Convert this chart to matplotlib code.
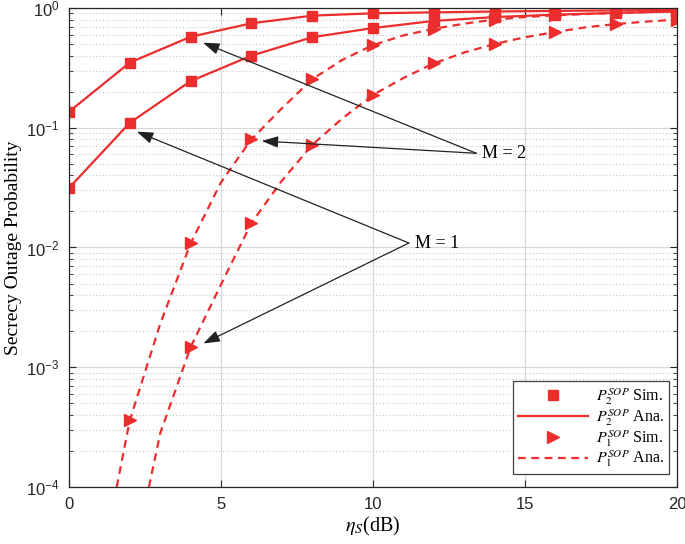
import numpy as np
import matplotlib
matplotlib.use("Agg")
import matplotlib.pyplot as plt
from matplotlib.ticker import FixedLocator, FuncFormatter, LogLocator, NullFormatter

# values
eta_sim = [0, 2, 4, 6, 8, 10, 12, 14, 16, 18, 20]
p2_m2 = [0.136, 0.35, 0.575, 0.745, 0.863, 0.903, 0.92, 0.935, 0.945, 0.955, 0.965]
p2_m1 = [0.0314, 0.110, 0.245, 0.40, 0.57, 0.68, 0.78, 0.84, 0.88, 0.91, 0.935]

eta_p1_m2 = [2, 4, 6, 8, 10, 12, 14, 16, 18, 20]
p1_m2_sim = [3.6e-4, 0.0108, 0.080, 0.254, 0.49, 0.67, 0.80, 0.87, 0.91, 0.94]
eta_p1_m1 = [4, 6, 8, 10, 12, 14, 16, 18, 20]
p1_m1_sim = [1.47e-3, 0.016, 0.072, 0.188, 0.345, 0.50, 0.63, 0.735, 0.80]

# analytic curves (read at 1 dB steps, starting where they leave the bottom edge)
eta_ana_m2 = [1.57, 2, 3, 4, 5, 6, 7, 8, 9, 10, 11, 12, 13, 14, 15, 16, 17, 18, 19, 20]
p1_m2_ana = [1e-4, 3.6e-4, 2.3e-3, 0.0108, 0.035, 0.080, 0.145, 0.254, 0.37, 0.49,
             0.59, 0.67, 0.74, 0.80, 0.84, 0.87, 0.89, 0.91, 0.925, 0.94]
eta_ana_m1 = [2.63, 3, 4, 5, 6, 7, 8, 9, 10, 11, 12, 13, 14, 15, 16, 17, 18, 19, 20]
p1_m1_ana = [1e-4, 2.8e-4, 1.47e-3, 4.9e-3, 0.016, 0.036, 0.072, 0.12, 0.188, 0.26,
             0.345, 0.425, 0.50, 0.57, 0.63, 0.69, 0.735, 0.77, 0.80]

RED = '#ec2d2d'
DASH = (0, (3.5, 2.5))

plt.rcParams['mathtext.fontset'] = 'stix'
plt.rcParams['font.family'] = 'Liberation Sans'

fig = plt.figure(figsize=(6.85, 5.44), dpi=100)
ax = fig.add_axes([0.1007, 0.1048, 0.8876, 0.8805])

# solid analytic + square sim for P2
ax.plot(eta_sim, p2_m2, color=RED, lw=1.6, marker='s', ms=7)
ax.plot(eta_sim, p2_m1, color=RED, lw=1.6, marker='s', ms=7)
# dashed analytic + triangle sim for P1
ax.plot(eta_ana_m2, p1_m2_ana, color=RED, lw=1.6, ls=DASH)
ax.plot(eta_ana_m1, p1_m1_ana, color=RED, lw=1.6, ls=DASH)
ax.plot(eta_p1_m2, p1_m2_sim, color=RED, ls='none', marker='>', ms=8.5)
ax.plot(eta_p1_m1, p1_m1_sim, color=RED, ls='none', marker='>', ms=8.5)

# legend proxies
h1, = ax.plot([], [], color=RED, ls='none', marker='s', ms=7)
h2, = ax.plot([], [], color=RED, lw=1.6)
h3, = ax.plot([], [], color=RED, ls='none', marker='>', ms=8.5)
h4, = ax.plot([], [], color=RED, lw=1.6, ls=DASH)
leg = ax.legend([h1, h2, h3, h4],
                [r'$P_2^{SOP}$ Sim.', r'$P_2^{SOP}$ Ana.',
                 r'$P_1^{SOP}$ Sim.', r'$P_1^{SOP}$ Ana.'],
                loc='lower right', bbox_to_anchor=(0.992, 0.02),
                prop={'family': 'Liberation Serif', 'size': 11.5},
                handlelength=4.4, labelspacing=0.0, handletextpad=0.5,
                borderpad=0.3, borderaxespad=0.2,
                fancybox=False, framealpha=1, edgecolor='#404040')
leg.get_frame().set_linewidth(0.9)

ax.set_yscale('log')
ax.set_xlim(0, 20)
ax.set_ylim(1e-4, 1)
ax.xaxis.set_major_locator(FixedLocator([0, 5, 10, 15, 20]))
ax.yaxis.set_major_locator(LogLocator(base=10, numticks=10))
ax.yaxis.set_minor_locator(LogLocator(base=10, subs=np.arange(2, 10), numticks=10))
ax.yaxis.set_minor_formatter(NullFormatter())
ax.yaxis.set_major_formatter(FuncFormatter(lambda v, p: r'$\mathregular{10^{%d}}$' % round(np.log10(v))))

ax.grid(True, which='major', color='#d8d8d8', lw=0.9)
ax.grid(True, which='minor', axis='y', color='#c8c8c8', lw=0.8, ls=(0, (1, 2)))
ax.set_axisbelow(True)
ax.tick_params(which='both', direction='in', top=True, right=True, colors='#262626',
               labelsize=12, pad=7)
ax.tick_params(which='major', length=5)
ax.tick_params(which='minor', length=3)
for s in ax.spines.values():
    s.set_color('#262626')
    s.set_linewidth(0.9)

ax.set_ylabel('Secrecy Outage Probability', family='Liberation Serif', fontsize=14, labelpad=3)
ax.set_xlabel(r'$\eta_S$(dB)', family='Liberation Serif', fontsize=14.5, labelpad=2)

# annotations
arrow = dict(arrowstyle='-|>,head_length=1.0,head_width=0.35', color='#222222', lw=0.9,
             shrinkA=0, shrinkB=0)
ax.annotate('', xy=(4.41, 0.513), xytext=(13.4, 0.0612), arrowprops=arrow)
ax.annotate('', xy=(6.34, 0.0775), xytext=(13.4, 0.0612), arrowprops=arrow)
ax.text(13.6, 0.0612, 'M = 2', family='Liberation Serif', fontsize=13, va='center', ha='left')
ax.annotate('', xy=(2.23, 0.0927), xytext=(11.18, 0.0109), arrowprops=arrow)
ax.annotate('', xy=(4.42, 1.58e-3), xytext=(11.18, 0.0109), arrowprops=arrow)
ax.text(11.38, 0.0109, 'M = 1', family='Liberation Serif', fontsize=13, va='center', ha='left')

fig.savefig('out.png', dpi=100)
